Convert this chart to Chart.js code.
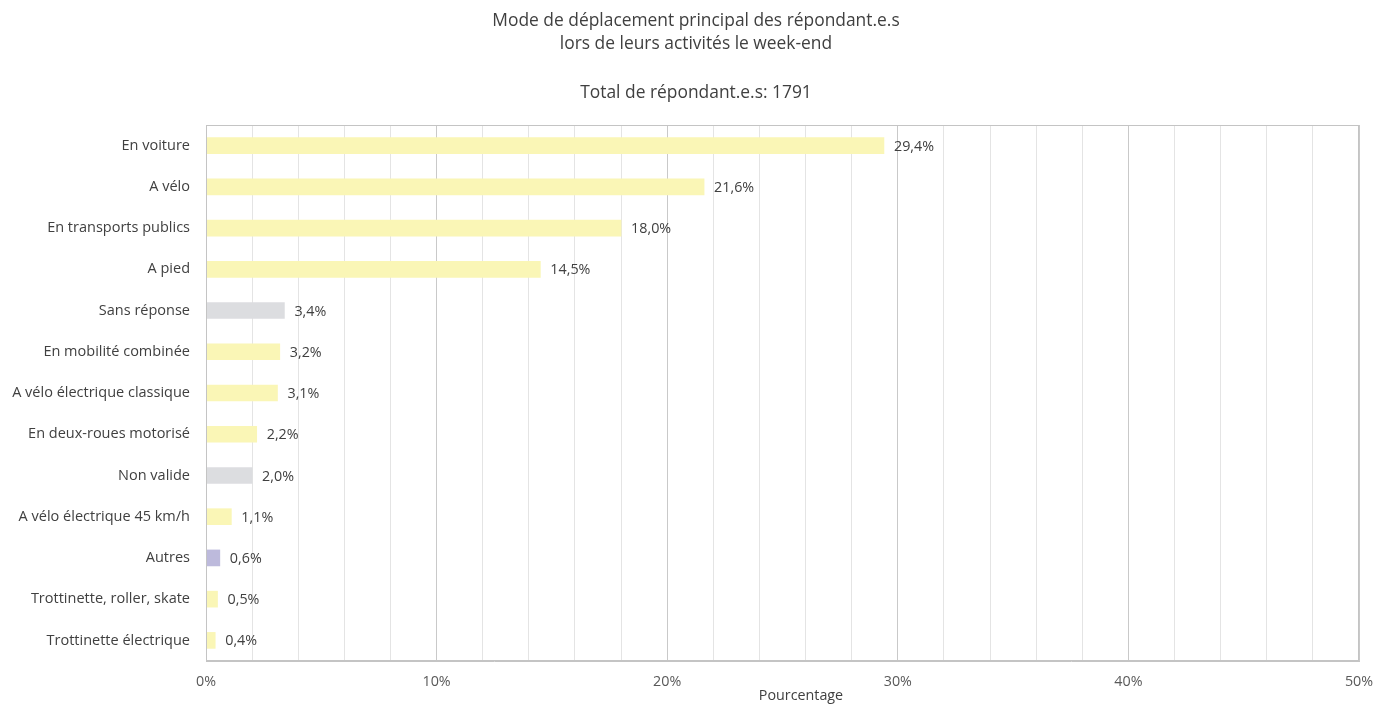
<!DOCTYPE html>
<html>
<head>
<meta charset="utf-8">
<script src="https://cdn.jsdelivr.net/npm/chart.js@4"></script>
<style>
  body { margin: 0; background: #fff; }
  canvas { display: block; }
</style>
</head>
<body>
<canvas id="modeChart" width="1391" height="704"></canvas>
<script>
// 카테고리 / 값
const categories = [
  'En voiture', 'A vélo', 'En transports publics', 'A pied', 'Sans réponse',
  'En mobilité combinée', 'A vélo électrique classique', 'En deux-roues motorisé',
  'Non valide', 'A vélo électrique 45 km/h', 'Autres', 'Trottinette, roller, skate',
  'Trottinette électrique'
];
const percentages = [29.4, 21.6, 18.0, 14.5, 3.4, 3.2, 3.1, 2.2, 2.0, 1.1, 0.6, 0.5, 0.4];
const barColors = [
  '#faf6b6', '#faf6b6', '#faf6b6', '#faf6b6', '#dcdde0',
  '#faf6b6', '#faf6b6', '#faf6b6', '#dcdde0', '#faf6b6', '#bdbadc', '#faf6b6',
  '#faf6b6'
];
const titleLines = [
  'Mode de déplacement principal des répondant.e.s',
  'lors de leurs activités le week-end',
  '',
  'Total de répondant.e.s: 1791'
];
const axisTitle = 'Pourcentage';
const fontFamily = '"Open Sans", "DejaVu Sans", sans-serif';

// 제목, 테두리, 값 라벨 그리기
const decorPlugin = {
  id: 'decor',
  beforeDraw(chart) {
    const c = chart.ctx;
    c.save();
    c.fillStyle = '#404040';
    c.font = '17.4px ' + fontFamily;
    c.textAlign = 'center';
    c.textBaseline = 'middle';
    const ys = [21, 44, 68, 93];
    titleLines.forEach((t, i) => c.fillText(t, 696, ys[i]));
    c.font = '14.3px ' + fontFamily;
    c.fillText(axisTitle, 801, 696);
    c.restore();
  },
  afterDraw(chart) {
    const a = chart.chartArea;
    const c = chart.ctx;
    c.save();
    c.strokeStyle = '#c4c4c4';
    c.lineWidth = 1;
    c.strokeRect(a.left + 0.5, a.top + 0.5, a.right - a.left - 1, a.bottom - a.top - 1);
    c.restore();
  },
  afterDatasetsDraw(chart) {
    const c = chart.ctx;
    const meta = chart.getDatasetMeta(0);
    c.save();
    c.fillStyle = '#404040';
    c.font = '14.3px ' + fontFamily;
    c.textAlign = 'left';
    c.textBaseline = 'middle';
    meta.data.forEach((bar, i) => {
      const label = percentages[i].toFixed(1).replace('.', ',') + '%';
      c.fillText(label, bar.x + 10, bar.y + 1);
    });
    c.restore();
  }
};

var ctx = document.getElementById('modeChart').getContext('2d');
var modeChart = new Chart(ctx, {
  type: 'bar',
  data: {
    labels: categories,
    datasets: [{
      data: percentages,
      backgroundColor: barColors,
      barThickness: 16
    }]
  },
  options: {
    indexAxis: 'y',
    responsive: false,
    animation: false,
    layout: { padding: { top: 125, right: 32, bottom: 0, left: 0 } },
    plugins: {
      legend: { display: false },
      tooltip: { enabled: false }
    },
    scales: {
      x: {
        min: 0,
        max: 50,
        afterFit(scale) { scale.height = 43; },
        ticks: {
          stepSize: 2,
          autoSkip: false,
          maxRotation: 0,
          padding: 12,
          color: '#595959',
          font: { family: fontFamily, size: 14.3 },
          callback: function(v) { return v % 10 === 0 ? v + '%' : ''; }
        },
        grid: {
          drawTicks: false,
          color: function(context) {
            const v = context.tick ? context.tick.value : 0;
            return v % 10 === 0 ? '#c9c9c9' : '#e4e4e4';
          }
        },
        border: { color: '#c4c4c4' }
      },
      y: {
        afterFit(scale) { scale.width = 206; },
        ticks: {
          padding: 16,
          color: '#404040',
          font: { family: fontFamily, size: 14.5 }
        },
        grid: { display: false, drawTicks: false },
        border: { color: '#c4c4c4' }
      }
    }
  },
  plugins: [decorPlugin]
});
</script>
</body>
</html>
